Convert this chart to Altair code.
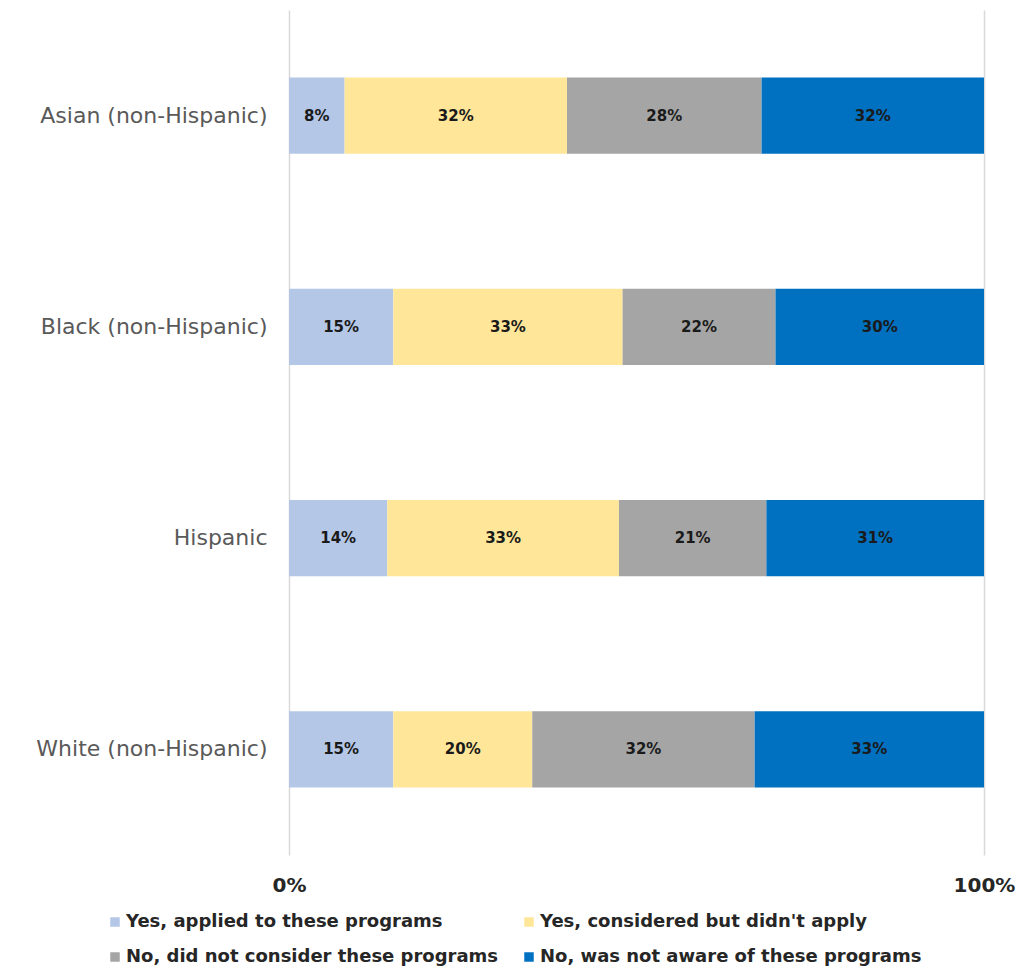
import altair as alt
import pandas as pd

groups = ["Asian (non-Hispanic)", "Black (non-Hispanic)", "Hispanic", "White (non-Hispanic)"]
responses = [
    "Yes, applied to these programs",
    "Yes, considered but didn't apply",
    "No, did not consider these programs",
    "No, was not aware of these programs",
]
applied = [8, 15, 14, 15]
considered = [32, 33, 33, 20]
not_considered = [28, 22, 21, 32]
not_aware = [32, 30, 31, 33]
colors = ["#B4C7E7", "#FFE699", "#A5A5A5", "#0070C0"]

rows = []
for gi, g in enumerate(groups):
    for ri, (r, vals) in enumerate(zip(responses, [applied, considered, not_considered, not_aware])):
        rows.append({"group": g, "response": r, "value": vals[gi], "order": ri})
df = pd.DataFrame(rows)

FONT = "DejaVu Sans"

base = alt.Chart(df).transform_stack(
    stack="value", groupby=["group"], as_=["s0", "s1"], offset="normalize",
    sort=[alt.SortField("order", order="ascending")],
).transform_calculate(
    mid="(datum.s0 + datum.s1) / 2",
    label="datum.value + '%'",
)

y = alt.Y("group:N", sort=groups, title=None,
          scale=alt.Scale(paddingInner=0.64, paddingOuter=0.32),
          axis=alt.Axis(labelFontSize=22, labelColor="#595959", labelFont=FONT,
                        labelPadding=22, ticks=False, domain=False, labelLimit=400))

bars = base.mark_bar().encode(
    x=alt.X("s0:Q", title=None, scale=alt.Scale(domain=[0, 1], nice=False),
            axis=alt.Axis(values=[0, 1], format="%", labelFontSize=20, labelFontWeight="bold",
                          labelColor="#262626", labelFont=FONT, labelPadding=20,
                          labelFlush=False, labelAlign="center",
                          ticks=False, domain=False, grid=True, gridColor="#D9D9D9",
                          gridWidth=1.5)),
    x2="s1:Q",
    y=y,
    color=alt.Color("response:N", scale=alt.Scale(domain=responses, range=colors),
                    legend=alt.Legend(title=None, orient="none", legendX=-183, legendY=903,
                                      columns=2, direction="horizontal",
                                      symbolType="square", symbolSize=90,
                                      symbolStrokeWidth=0, labelFontSize=18,
                                      labelFontWeight="bold", labelColor="#262626",
                                      labelFont=FONT, labelOffset=2, rowPadding=17,
                                      columnPadding=21, labelLimit=500, symbolOffset=0)),
)

text = base.mark_text(fontSize=15, fontWeight="bold", color="#1a1a1a", font=FONT).encode(
    x="mid:Q",
    y=alt.Y("group:N", sort=groups),
    text="label:N",
)

chart = (bars + text).properties(
    width=695, height=845,
    autosize=alt.AutoSizeParams(type="none"),
    padding={"left": 289, "top": 10, "right": 37, "bottom": 115},
).configure_view(stroke=None).configure_axis(gridOpacity=1)

chart.save("out.html", embed_options={"renderer": "svg", "actions": False})
